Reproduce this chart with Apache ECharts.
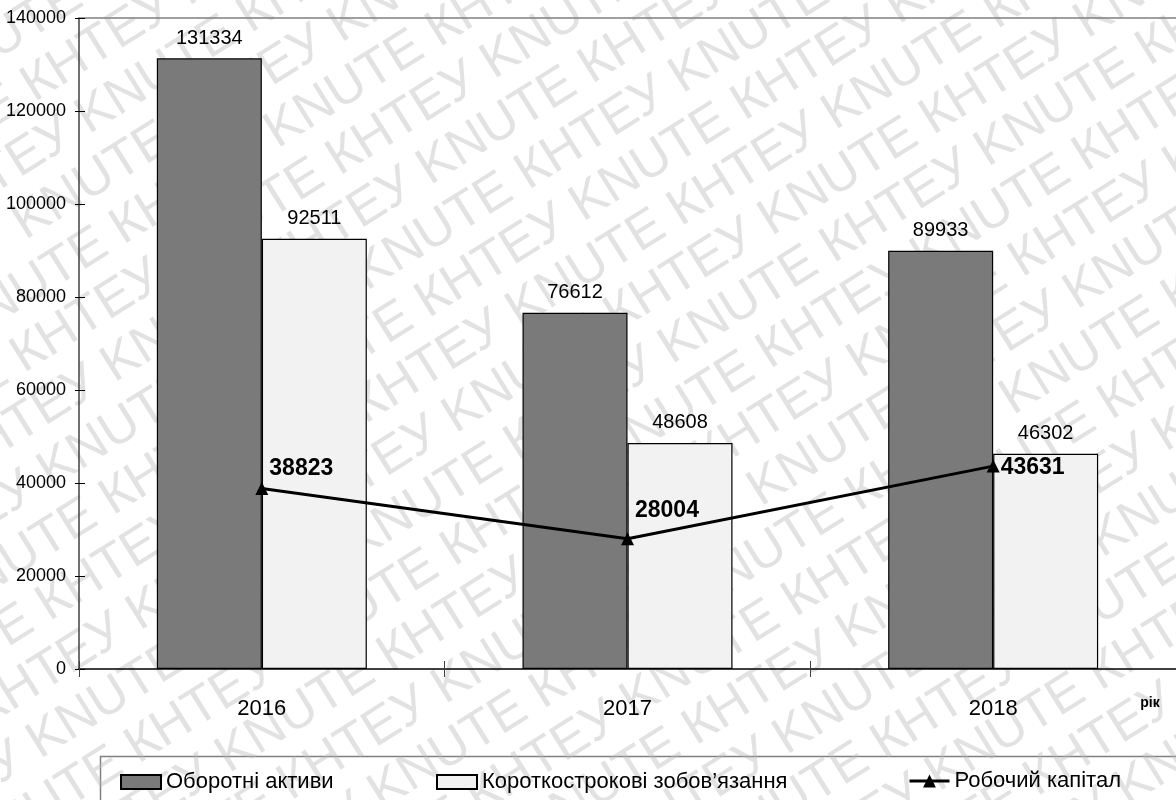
<!DOCTYPE html>
<html>
<head>
<meta charset="utf-8">
<script src="https://cdn.jsdelivr.net/npm/echarts@6/dist/echarts.min.js"></script>
<style>
  html, body { margin: 0; padding: 0; background: #ffffff; }
  #chart { width: 1176px; height: 800px; }
</style>
</head>
<body>
<div id="chart"></div>
<script>
// Years on the category axis
const categories = ['2016', '2017', '2018'];
// Current assets, thousand UAH
const currentAssets = [131334, 76612, 89933];
// Current (short-term) liabilities, thousand UAH
const currentLiabilities = [92511, 48608, 46302];
// Working capital = current assets - current liabilities
const workingCapital = [38823, 28004, 43631];
// Value axis range
const yMin = 0, yMax = 140000, yStep = 20000;
// Series names (legend)
const seriesNames = ['Оборотні активи', 'Короткострокові зобов’язання', 'Робочий капітал'];
const xAxisTitle = 'рік';

// Manual nudges of the working-capital labels (pixels)
const capitalLabelOffsets = [[0, -20], [0, -28], [0, 2]];

const FONT = '"Liberation Sans", Arial, sans-serif';

// Diagonal "KNUTE КНТЕУ" watermark drawn over the whole canvas
function watermark() {
  const rows = [];
  const pitch = 56;
  const unit = 'KNUTE КНТЕУ ';
  const line = unit.repeat(12);
  for (let i = -16; i <= 16; i++) {
    rows.push({
      type: 'text',
      x: -1400 + (((i % 3) + 3) % 3) * -110,
      y: i * pitch,
      style: {
        text: line,
        font: '52px ' + FONT,
        fill: 'rgba(185,185,185,0.42)',
        textVerticalAlign: 'middle'
      },
      silent: true
    });
  }
  return {
    type: 'group',
    x: 588, y: 400,
    rotation: 32 * Math.PI / 180,
    z: 100,
    silent: true,
    children: rows
  };
}

const chart = echarts.init(document.getElementById('chart'), null, { renderer: 'canvas' });

const legendBase = {
  orient: 'horizontal',
  top: 771,
  padding: 0,
  itemWidth: 40,
  itemHeight: 14,
  itemGap: 5,
  icon: 'rect',
  textStyle: { fontFamily: FONT, fontSize: 22, color: '#000' },
  selectedMode: false
};

chart.setOption({
  backgroundColor: '#ffffff',
  animation: false,
  textStyle: { fontFamily: FONT },
  grid: { left: 79, right: 0, top: 18, bottom: 131, containLabel: false },
  legend: [
    Object.assign({}, legendBase, { left: 120, data: [seriesNames[0]] }),
    Object.assign({}, legendBase, { left: 436, data: [seriesNames[1]] }),
    Object.assign({}, legendBase, {
      left: 908, top: 770, itemHeight: 16, icon: null,
      data: [seriesNames[2]],
      lineStyle: { width: 3, color: '#000' }
    })
  ],
  xAxis: [
    {
      type: 'category',
      data: categories,
      position: 'bottom',
      boundaryGap: true,
      axisLine: { lineStyle: { color: '#000', width: 1.5 } },
      axisTick: { show: true, length: 8, lineStyle: { color: '#404040' } },
      axisLabel: { color: '#000', fontSize: 22, fontFamily: FONT, margin: 29 },
      splitLine: { show: false }
    },
    {
      // inner half of the crossing ticks
      type: 'category',
      data: categories,
      position: 'bottom',
      axisLine: { show: false },
      axisTick: { show: true, inside: true, length: 8, lineStyle: { color: '#404040' } },
      axisLabel: { show: false },
      splitLine: { show: false }
    },
    {
      // top border of the plot area
      type: 'category',
      data: categories,
      position: 'top',
      axisLine: { lineStyle: { color: '#808080', width: 1.5 } },
      axisTick: { show: false },
      axisLabel: { show: false },
      splitLine: { show: false }
    }
  ],
  yAxis: [
    {
      type: 'value',
      min: yMin, max: yMax, interval: yStep,
      position: 'left',
      axisLine: { show: true, lineStyle: { color: '#404040', width: 1.5 } },
      axisTick: { show: true, length: 4, lineStyle: { color: '#000' } },
      axisLabel: {
        color: '#000', fontSize: 18, fontFamily: FONT, margin: 13,
        formatter: (v) => String(v)
      },
      splitLine: { show: false }
    },
    {
      type: 'value',
      min: yMin, max: yMax, interval: yStep,
      position: 'left',
      axisLine: { show: false },
      axisTick: { show: true, inside: true, length: 6, lineStyle: { color: '#000' } },
      axisLabel: { show: false },
      splitLine: { show: false }
    }
  ],
  series: [
    {
      name: seriesNames[0],
      type: 'bar',
      data: currentAssets,
      barWidth: 105,
      barGap: '0%',
      itemStyle: { color: '#7a7a7a', borderColor: '#000', borderWidth: 1.2 },
      label: {
        show: true, position: 'top', distance: 10,
        color: '#000', fontSize: 20, fontFamily: FONT
      },
      z: 2
    },
    {
      name: seriesNames[1],
      type: 'bar',
      data: currentLiabilities,
      barWidth: 105,
      barGap: '0%',
      itemStyle: { color: '#f2f2f2', borderColor: '#000', borderWidth: 1.2 },
      label: {
        show: true, position: 'top', distance: 10,
        color: '#000', fontSize: 20, fontFamily: FONT
      },
      z: 2
    },
    {
      name: seriesNames[2],
      type: 'line',
      data: workingCapital.map((v, i) => ({
        value: v,
        label: { offset: capitalLabelOffsets[i] }
      })),
      color: '#000',
      lineStyle: { color: '#000', width: 3 },
      itemStyle: { color: '#000' },
      symbol: 'triangle',
      symbolSize: 13,
      showAllSymbol: true,
      label: {
        show: true, position: 'right', distance: 1,
        color: '#000', fontSize: 23, fontWeight: 'bold', fontFamily: FONT
      },
      z: 5
    }
  ],
  graphic: [
    {
      type: 'rect',
      shape: { x: 100.5, y: 756.5, width: 1200, height: 100 },
      style: { fill: 'none', stroke: '#808080', lineWidth: 1.5 },
      z: 0,
      silent: true
    },
    {
      type: 'text',
      x: 1150, y: 703,
      style: {
        text: xAxisTitle,
        font: 'bold 14px ' + FONT,
        fill: '#000',
        textAlign: 'center',
        textVerticalAlign: 'middle'
      },
      z: 10,
      silent: true
    },
    watermark()
  ]
});
</script>
</body>
</html>
